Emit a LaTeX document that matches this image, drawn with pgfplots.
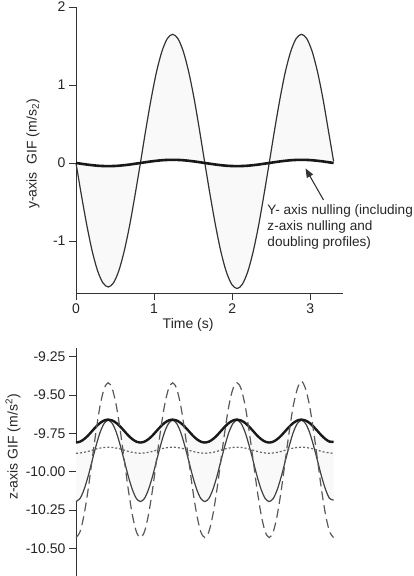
\documentclass[border=0pt]{standalone}
\usepackage{fontspec}
\setmainfont{Liberation Sans}
\usepackage{pgfplots}
\pgfplotsset{compat=1.18}
\usepackage{pgfplotstable}
\usepgfplotslibrary{fillbetween}
\usetikzlibrary{arrows.meta}

\pgfplotstableread{
t big thk
0.000 0.000 0.000
0.069 -0.412 -0.010
0.138 -0.795 -0.020
0.206 -1.124 -0.028
0.275 -1.377 -0.035
0.344 -1.536 -0.039
0.413 -1.590 -0.040
0.481 -1.536 -0.039
0.550 -1.377 -0.035
0.619 -1.124 -0.028
0.688 -0.795 -0.020
0.756 -0.412 -0.010
0.825 0.000 0.000
0.894 0.427 0.010
0.963 0.825 0.020
1.031 1.167 0.028
1.100 1.429 0.035
1.169 1.594 0.039
1.238 1.650 0.040
1.306 1.594 0.039
1.375 1.429 0.035
1.444 1.167 0.028
1.513 0.825 0.020
1.581 0.427 0.010
1.650 0.000 0.000
1.719 -0.417 -0.010
1.788 -0.805 -0.020
1.856 -1.138 -0.028
1.925 -1.394 -0.035
1.994 -1.555 -0.039
2.063 -1.610 -0.040
2.131 -1.555 -0.039
2.200 -1.394 -0.035
2.269 -1.138 -0.028
2.338 -0.805 -0.020
2.406 -0.417 -0.010
2.475 0.000 0.000
2.544 0.427 0.010
2.613 0.825 0.020
2.681 1.167 0.028
2.750 1.429 0.035
2.819 1.594 0.039
2.888 1.650 0.040
2.956 1.594 0.039
3.025 1.429 0.035
3.094 1.167 0.028
3.163 0.825 0.020
3.231 0.427 0.010
3.300 0.020 0.000
}\toptable

\pgfplotstableread{
t dash thin thick dot
0.000 -10.430 -10.195 -9.810 -9.880
0.052 -10.392 -10.175 -9.804 -9.878
0.103 -10.282 -10.117 -9.788 -9.874
0.155 -10.118 -10.031 -9.764 -9.868
0.206 -9.925 -9.930 -9.735 -9.860
0.258 -9.732 -9.829 -9.706 -9.852
0.309 -9.568 -9.743 -9.682 -9.846
0.361 -9.458 -9.685 -9.666 -9.842
0.413 -9.420 -9.665 -9.660 -9.840
0.464 -9.458 -9.685 -9.666 -9.842
0.516 -9.568 -9.743 -9.682 -9.846
0.567 -9.732 -9.829 -9.706 -9.852
0.619 -9.925 -9.930 -9.735 -9.860
0.670 -10.118 -10.031 -9.764 -9.868
0.722 -10.282 -10.117 -9.788 -9.874
0.773 -10.392 -10.175 -9.804 -9.878
0.825 -10.430 -10.195 -9.810 -9.880
0.877 -10.392 -10.175 -9.804 -9.878
0.928 -10.282 -10.117 -9.788 -9.874
0.980 -10.118 -10.031 -9.764 -9.868
1.031 -9.925 -9.930 -9.735 -9.860
1.083 -9.732 -9.829 -9.706 -9.852
1.134 -9.568 -9.743 -9.682 -9.846
1.186 -9.458 -9.685 -9.666 -9.842
1.238 -9.420 -9.665 -9.660 -9.840
1.289 -9.458 -9.685 -9.666 -9.842
1.341 -9.568 -9.743 -9.682 -9.846
1.392 -9.732 -9.829 -9.706 -9.852
1.444 -9.925 -9.930 -9.735 -9.860
1.495 -10.118 -10.031 -9.764 -9.868
1.547 -10.282 -10.117 -9.788 -9.874
1.598 -10.392 -10.175 -9.804 -9.878
1.650 -10.430 -10.195 -9.810 -9.880
1.702 -10.392 -10.175 -9.804 -9.878
1.753 -10.282 -10.117 -9.788 -9.874
1.805 -10.118 -10.031 -9.764 -9.868
1.856 -9.925 -9.930 -9.735 -9.860
1.908 -9.732 -9.829 -9.706 -9.852
1.959 -9.568 -9.743 -9.682 -9.846
2.011 -9.458 -9.685 -9.666 -9.842
2.063 -9.420 -9.665 -9.660 -9.840
2.114 -9.458 -9.685 -9.666 -9.842
2.166 -9.568 -9.743 -9.682 -9.846
2.217 -9.732 -9.829 -9.706 -9.852
2.269 -9.925 -9.930 -9.735 -9.860
2.320 -10.118 -10.031 -9.764 -9.868
2.372 -10.282 -10.117 -9.788 -9.874
2.423 -10.392 -10.175 -9.804 -9.878
2.475 -10.430 -10.195 -9.810 -9.880
2.527 -10.392 -10.175 -9.804 -9.878
2.578 -10.282 -10.117 -9.788 -9.874
2.630 -10.118 -10.031 -9.764 -9.868
2.681 -9.925 -9.930 -9.735 -9.860
2.733 -9.732 -9.829 -9.706 -9.852
2.784 -9.568 -9.743 -9.682 -9.846
2.836 -9.458 -9.685 -9.666 -9.842
2.888 -9.410 -9.665 -9.660 -9.840
2.939 -9.458 -9.685 -9.666 -9.842
2.991 -9.568 -9.743 -9.682 -9.846
3.042 -9.732 -9.829 -9.706 -9.852
3.094 -9.925 -9.930 -9.735 -9.860
3.145 -10.118 -10.031 -9.764 -9.868
3.197 -10.282 -10.117 -9.788 -9.874
3.248 -10.392 -10.175 -9.804 -9.878
3.300 -10.430 -10.185 -9.805 -9.880
}\bottable

\definecolor{fillg}{HTML}{F9F9F9}
\definecolor{axg}{HTML}{333333}

\begin{document}
\begin{tikzpicture}[font=\fontsize{14bp}{16bp}\selectfont]
\pgfplotsset{
  common/.style={
    scale only axis,
    width=267bp,
    set layers,
    xmin=0, xmax=3.42,
    tick align=outside,
    major tick length=7bp,
    tick style={axg, line width=0.9bp},
    axis line style={axg, line width=0.9bp},
    ticklabel style={font=\fontsize{14bp}{16bp}\selectfont, text=black!85},
    label style={font=\fontsize{14bp}{16bp}\selectfont, text=black!85},
    clip=false,
  }
}
% top axis
\begin{axis}[common,
  at={(76bp,283bp)}, anchor=south west,
  height=286bp,
  ymin=-1.667, ymax=2,
  axis x line*=bottom, axis y line*=left,
  xtick={0,1,2,3}, xticklabels={0,1,2,3},
  ytick={-1,0,1,2}, yticklabels={-1,0,1,2},
  xlabel={Time (s)},
  ylabel={y-axis\ \ GIF (m/s\textsubscript{2})},
  xlabel style={at={(axis description cs:0.42,-0.112)}, anchor=center},
  ylabel style={at={(axis description cs:-0.161,0.486)}, anchor=center},
]
\addplot[name path=big, draw=black!80, line width=1.2bp, smooth] table[x=t,y=big]{\toptable};
\addplot[name path=thk, draw=black!90, line width=2.6bp, smooth] table[x=t,y=thk]{\toptable};
\addplot[fill=fillg, draw=none] fill between[of=big and thk];
\draw[-{Triangle[length=9bp,width=7bp]}, line width=1.1bp, black!80] (axis cs:3.17,-0.474) -- (axis cs:2.94,-0.07);
\node[anchor=north west, align=left, inner sep=0pt, font=\fontsize{13.6bp}{16bp}\selectfont, text=black!85] at (axis cs:2.45,-0.53) {Y- axis nulling (including\\z-axis nulling and\\doubling profiles)};
\end{axis}
% bottom axis
\begin{axis}[common,
  at={(76bp,0bp)}, anchor=south west,
  height=228bp,
  ymin=-10.681, ymax=-9.193,
  axis x line=none, axis y line*=left,
  ytick={-10.5,-10.25,-10,-9.75,-9.5,-9.25},
  yticklabels={-10.50,-10.25,-10.00,-9.75,-9.50,-9.25},
  ylabel={z-axis GIF (m/s\textsuperscript{2})},
  ylabel style={at={(axis description cs:-0.236,0.566)}, anchor=center},
]
\addplot[name path=thin, draw=black!75, line width=1.2bp, smooth] table[x=t,y=thin]{\bottable};
\addplot[name path=thick, draw=black!90, line width=2.4bp, smooth] table[x=t,y=thick]{\bottable};
\addplot[fill=fillg, draw=none] fill between[of=thin and thick];
\addplot[draw=black!65, line width=1.2bp, dash pattern=on 9bp off 5bp, smooth] table[x=t,y=dash]{\bottable};
\addplot[draw=black!60, line width=1.2bp, dash pattern=on 2bp off 2bp, smooth] table[x=t,y=dot]{\bottable};
\end{axis}
\pgfresetboundingbox
\path[use as bounding box] (0,0) rectangle (414bp,576bp);
\end{tikzpicture}
\end{document}
